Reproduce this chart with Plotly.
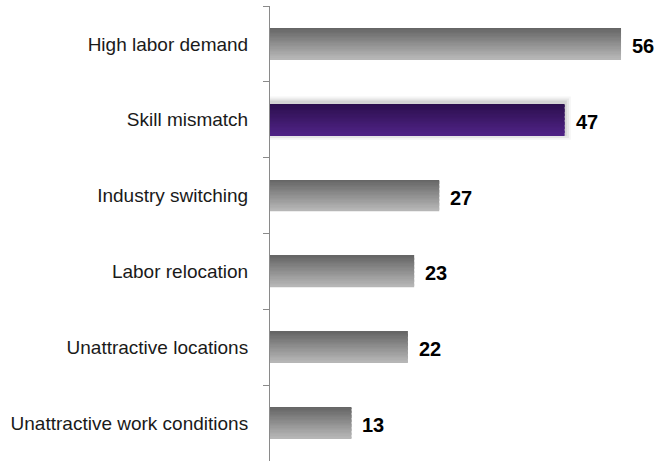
import plotly.graph_objects as go

# Reasons for the labor shortage, top to bottom
categories = [
    "High labor demand",
    "Skill mismatch",
    "Industry switching",
    "Labor relocation",
    "Unattractive locations",
    "Unattractive work conditions",
]
values = [56, 47, 27, 23, 22, 13]
highlight = "Skill mismatch"

BAR_W = 0.41
N_SLICES = 24

GRAY_TOP, GRAY_BOT = (102, 102, 102), (182, 182, 182)
PURP_TOP, PURP_BOT = (44, 15, 78), (78, 34, 132)


def mix(a, b, t):
    return "rgb({},{},{})".format(*[round(a[k] + (b[k] - a[k]) * t) for k in range(3)])


fig = go.Figure()

# soft glow behind the highlighted bar
hi = categories.index(highlight)
for grow, extra, alpha in [(0.16, 1.0, 0.04), (0.11, 0.7, 0.06), (0.06, 0.35, 0.08)]:
    xs = [None] * len(categories)
    xs[hi] = values[hi] + extra
    fig.add_trace(go.Bar(
        y=categories, x=xs, orientation="h",
        width=BAR_W + grow, offset=-(BAR_W + grow) / 2 - 0.02,
        marker=dict(color=f"rgba(0,0,0,{alpha})", line=dict(width=0)),
        hoverinfo="skip", showlegend=False,
    ))

# each bar is drawn as thin horizontal strips to give a top-to-bottom shading
step = BAR_W / N_SLICES
for i in range(N_SLICES):
    t = i / (N_SLICES - 1)
    colors = [mix(PURP_TOP, PURP_BOT, t) if c == highlight else mix(GRAY_TOP, GRAY_BOT, t)
              for c in categories]
    fig.add_trace(go.Bar(
        y=categories, x=values, orientation="h",
        width=step * 1.15, offset=-BAR_W / 2 + i * step,
        marker=dict(color=colors, line=dict(width=0)),
        hoverinfo="skip", showlegend=False,
    ))

for c, v in zip(categories, values):
    fig.add_annotation(
        x=v, y=c, text=f"<b>{v}</b>", showarrow=False,
        xanchor="left", yanchor="middle", xshift=9, yshift=-2,
        font=dict(family="Liberation Sans, Arial, Helvetica", size=20, color="#000000"),
    )

fig.update_layout(
    width=658, height=461,
    margin=dict(l=270, r=0, t=6, b=0),
    paper_bgcolor="white", plot_bgcolor="white",
    barmode="overlay",
    font=dict(family="Liberation Sans, Arial, Helvetica", size=19, color="#1a1a1a"),
    xaxis=dict(range=[0, 61.9], visible=False, fixedrange=True),
    yaxis=dict(
        categoryorder="array", categoryarray=categories, autorange="reversed",
        showline=True, linecolor="#8a8a8a", linewidth=1,
        ticks="outside", ticklen=6, tickcolor="#8a8a8a", tickson="boundaries",
        ticklabelstandoff=17, showgrid=False, zeroline=False, fixedrange=True,
    ),
)

fig.write_html("out.html")
